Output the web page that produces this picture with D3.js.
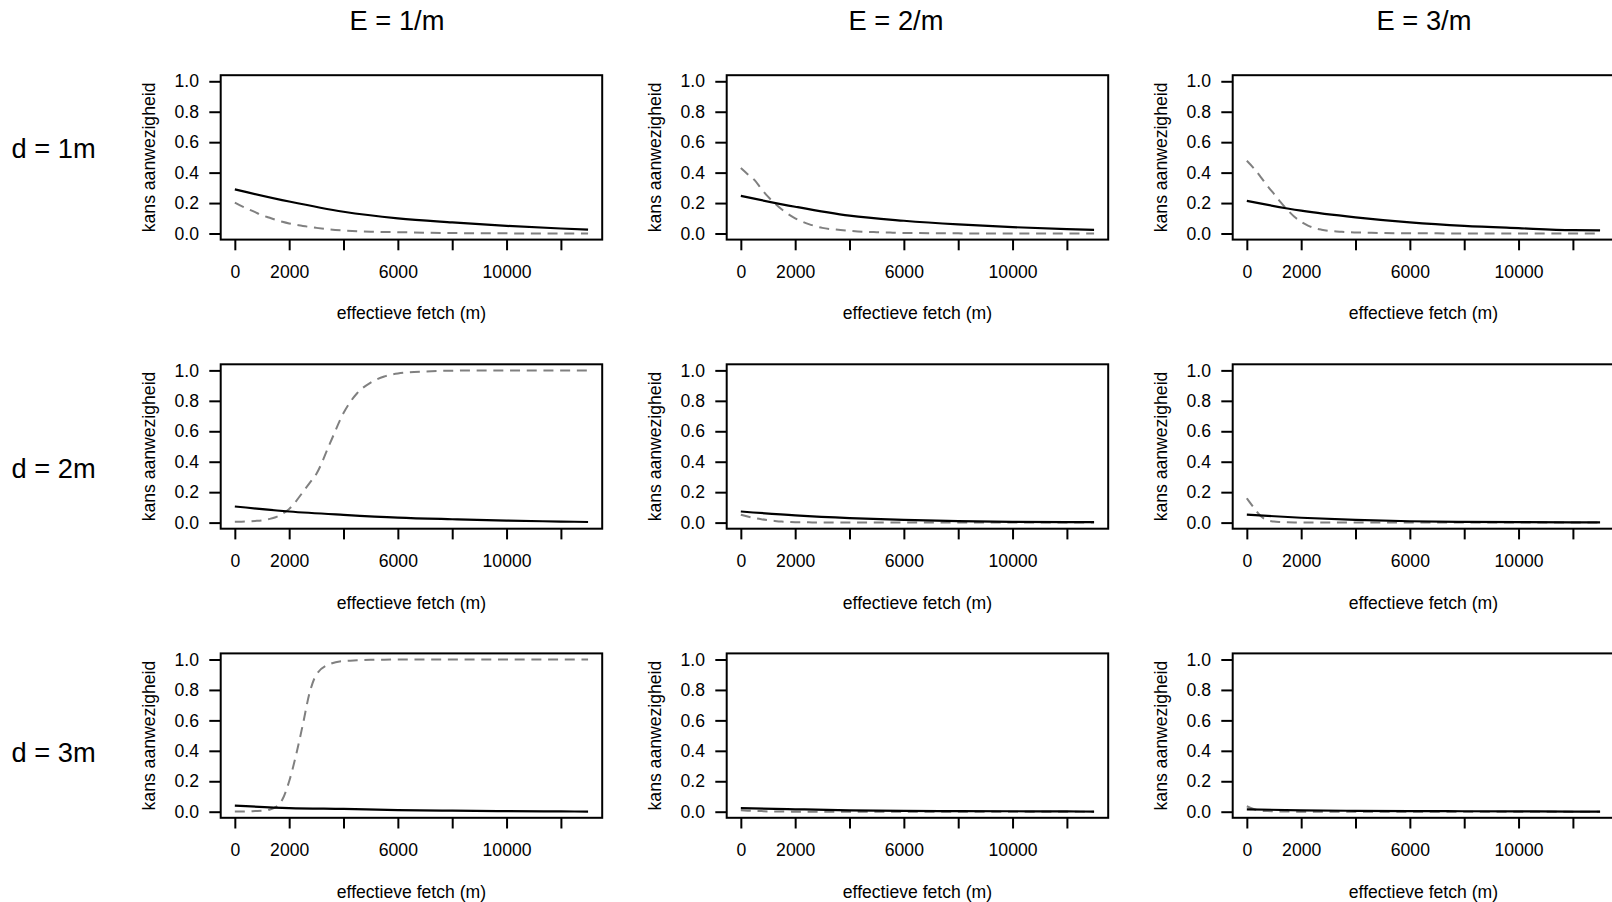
<!DOCTYPE html>
<html>
<head>
<meta charset="utf-8">
<script src="https://cdn.jsdelivr.net/npm/d3@7"></script>
<style>
  html, body { margin: 0; padding: 0; background: #ffffff; }
  svg { display: block; }
  text { font-family: "Liberation Sans", Arial, sans-serif; fill: #000; }
</style>
</head>
<body>
<svg id="chart" width="1612" height="902"></svg>
<script>
// ---------------- DATA ----------------
const colTitles = ["E = 1/m", "E = 2/m", "E = 3/m"];
const rowTitles = ["d = 1m", "d = 2m", "d = 3m"];
const xTitle = "effectieve fetch (m)";
const yTitle = "kans aanwezigheid";

const xTicks = [0, 2000, 4000, 6000, 8000, 10000, 12000];
const xTickLabels = ["0", "2000", "", "6000", "", "10000", ""];
const yTicks = [0, 0.2, 0.4, 0.6, 0.8, 1.0];
const yTickLabels = ["0.0", "0.2", "0.4", "0.6", "0.8", "1.0"];

// solid (black) curves, sampled at fetchSolid
const fetchSolid = [0, 2000, 4000, 6000, 8000, 10000, 12000, 13000];
const solidD1E1 = [0.29, 0.21, 0.143, 0.10, 0.073, 0.05, 0.033, 0.026];
const solidD1E2 = [0.247, 0.176, 0.117, 0.084, 0.06, 0.042, 0.029, 0.024];
const solidD1E3 = [0.214, 0.15, 0.106, 0.073, 0.05, 0.035, 0.022, 0.02];
const solidD2E1 = [0.106, 0.073, 0.051, 0.033, 0.022, 0.013, 0.007, 0.004];
const solidD2E2 = [0.073, 0.048, 0.03, 0.018, 0.01, 0.005, 0.003, 0.003];
const solidD2E3 = [0.052, 0.032, 0.018, 0.009, 0.005, 0.003, 0.002, 0.002];
const solidD3E1 = [0.04, 0.024, 0.018, 0.011, 0.007, 0.004, 0.002, 0.001];
const solidD3E2 = [0.024, 0.016, 0.009, 0.005, 0.004, 0.003, 0.002, 0.001];
const solidD3E3 = [0.016, 0.009, 0.006, 0.004, 0.003, 0.002, 0.001, 0.001];

// dashed (grey) curves, sampled at fetchDashed
const fetchDashed = [0, 250, 500, 750, 1000, 1250, 1500, 1750, 2000, 2250, 2500, 2750, 3000, 3500, 4000, 4500, 5000, 5500, 6000, 7000, 8000, 10000, 13000];
const dashD1E1 = [0.203, 0.18, 0.16, 0.14, 0.12, 0.105, 0.09, 0.077, 0.066, 0.057, 0.05, 0.043, 0.037, 0.027, 0.02, 0.015, 0.012, 0.01, 0.009, 0.005, 0.003, 0.001, 0.0];
const dashD1E2 = [0.43, 0.39, 0.352, 0.295, 0.242, 0.198, 0.159, 0.127, 0.1, 0.079, 0.062, 0.048, 0.037, 0.026, 0.018, 0.012, 0.009, 0.006, 0.004, 0.002, 0.001, 0.0, 0.0];
const dashD1E3 = [0.478, 0.43, 0.374, 0.315, 0.26, 0.205, 0.154, 0.11, 0.077, 0.052, 0.035, 0.025, 0.018, 0.011, 0.007, 0.005, 0.003, 0.002, 0.002, 0.001, 0.0, 0.0, 0.0];
const dashD2E1 = [0.005, 0.006, 0.008, 0.011, 0.015, 0.023, 0.035, 0.058, 0.09, 0.14, 0.2, 0.26, 0.32, 0.52, 0.72, 0.85, 0.92, 0.96, 0.98, 0.993, 0.998, 1.0, 1.0];
const dashD2E2 = [0.052, 0.04, 0.03, 0.022, 0.016, 0.011, 0.007, 0.005, 0.003, 0.002, 0.002, 0.001, 0.001, 0.0, 0.0, 0.0, 0.0, 0.0, 0.0, 0.0, 0.0, 0.0, 0.0];
const dashD2E3 = [0.16, 0.1, 0.045, 0.016, 0.007, 0.004, 0.002, 0.001, 0.001, 0.0, 0.0, 0.0, 0.0, 0.0, 0.0, 0.0, 0.0, 0.0, 0.0, 0.0, 0.0, 0.0, 0.0];
const dashD3E1 = [0.001, 0.001, 0.002, 0.004, 0.006, 0.013, 0.03, 0.08, 0.2, 0.37, 0.57, 0.78, 0.9, 0.97, 0.99, 0.995, 0.998, 0.999, 1.0, 1.0, 1.0, 1.0, 1.0];
const dashD3E2 = [0.009, 0.007, 0.005, 0.004, 0.002, 0.002, 0.001, 0.001, 0.0, 0.0, 0.0, 0.0, 0.0, 0.0, 0.0, 0.0, 0.0, 0.0, 0.0, 0.0, 0.0, 0.0, 0.0];
const dashD3E3 = [0.036, 0.018, 0.007, 0.004, 0.002, 0.001, 0.001, 0.0, 0.0, 0.0, 0.0, 0.0, 0.0, 0.0, 0.0, 0.0, 0.0, 0.0, 0.0, 0.0, 0.0, 0.0, 0.0];

const solidRows = [[solidD1E1, solidD1E2, solidD1E3], [solidD2E1, solidD2E2, solidD2E3], [solidD3E1, solidD3E2, solidD3E3]];
const dashRows = [[dashD1E1, dashD1E2, dashD1E3], [dashD2E1, dashD2E2, dashD2E3], [dashD3E1, dashD3E2, dashD3E3]];

// ---------------- LAYOUT ----------------
const boxLeft0 = 220.7, colStep = 506;
const boxTop0 = 75.2, rowStep = 289.1;
const boxW = 381.5, boxH = 164.4;
const colTitleX = [397, 896, 1424];
const rowTitleBaseline = [157.5, 477.5, 762];

const svg = d3.select("#chart");

colTitles.forEach((t, i) => {
  svg.append("text").attr("x", colTitleX[i]).attr("y", 30)
    .attr("text-anchor", "middle").style("font-size", "27.3px").text(t);
});
rowTitles.forEach((t, i) => {
  svg.append("text").attr("x", 11.5).attr("y", rowTitleBaseline[i])
    .style("font-size", "27.3px").text(t);
});

const fs = "17.6px";

for (let r = 0; r < 3; r++) {
  for (let c = 0; c < 3; c++) {
    const L = boxLeft0 + c * colStep;
    const T = boxTop0 + r * rowStep;
    const x = d3.scaleLinear().domain([-520, 13520]).range([L, L + boxW]);
    const y = d3.scaleLinear().domain([-0.04, 1.04]).range([T + boxH, T]);
    const g = svg.append("g");

    // x axis
    const xa = g.append("g").attr("transform", `translate(0,${T + boxH})`)
      .call(d3.axisBottom(x).tickValues(xTicks).tickSize(10.7).tickPadding(15.5)
        .tickFormat((d, i) => xTickLabels[i]));
    xa.select(".domain").remove();
    xa.selectAll(".tick line").attr("stroke", "#000").attr("stroke-width", 2);
    xa.selectAll(".tick text").style("font-size", fs).attr("fill", "#000")
      .style("font-family", '"Liberation Sans", Arial, sans-serif');

    // y axis
    const ya = g.append("g").attr("transform", `translate(${L},0)`)
      .call(d3.axisLeft(y).tickValues(yTicks).tickSize(11.4).tickPadding(10.3)
        .tickFormat((d, i) => yTickLabels[i]));
    ya.select(".domain").remove();
    ya.selectAll(".tick line").attr("stroke", "#000").attr("stroke-width", 2);
    ya.selectAll(".tick text").style("font-size", fs).attr("fill", "#000")
      .style("font-family", '"Liberation Sans", Arial, sans-serif');

    // titles
    g.append("text").attr("x", L + boxW / 2).attr("y", T + boxH + 79.8)
      .attr("text-anchor", "middle").style("font-size", fs).text(xTitle);
    g.append("text")
      .attr("transform", `translate(${L - 66},${T + boxH / 2}) rotate(-90)`)
      .attr("text-anchor", "middle").style("font-size", fs).text(yTitle);

    // clip
    const cid = `clip${r}${c}`;
    svg.append("clipPath").attr("id", cid).append("rect")
      .attr("x", L).attr("y", T).attr("width", boxW).attr("height", boxH);

    const line = d3.line().x(d => x(d[0])).y(d => y(d[1])).curve(d3.curveMonotoneX);

    const dashData = fetchDashed.map((f, i) => [f, dashRows[r][c][i]]);
    g.append("path").attr("clip-path", `url(#${cid})`)
      .attr("d", line(dashData)).attr("fill", "none")
      .attr("stroke", "#808080").attr("stroke-width", 2)
      .attr("stroke-dasharray", "10,6.7");

    const solidData = fetchSolid.map((f, i) => [f, solidRows[r][c][i]]);
    g.append("path").attr("clip-path", `url(#${cid})`)
      .attr("d", line(solidData)).attr("fill", "none")
      .attr("stroke", "#000").attr("stroke-width", 2.2);

    // box
    g.append("rect").attr("x", L).attr("y", T).attr("width", boxW).attr("height", boxH)
      .attr("fill", "none").attr("stroke", "#000").attr("stroke-width", 2);
  }
}
</script>
</body>
</html>
